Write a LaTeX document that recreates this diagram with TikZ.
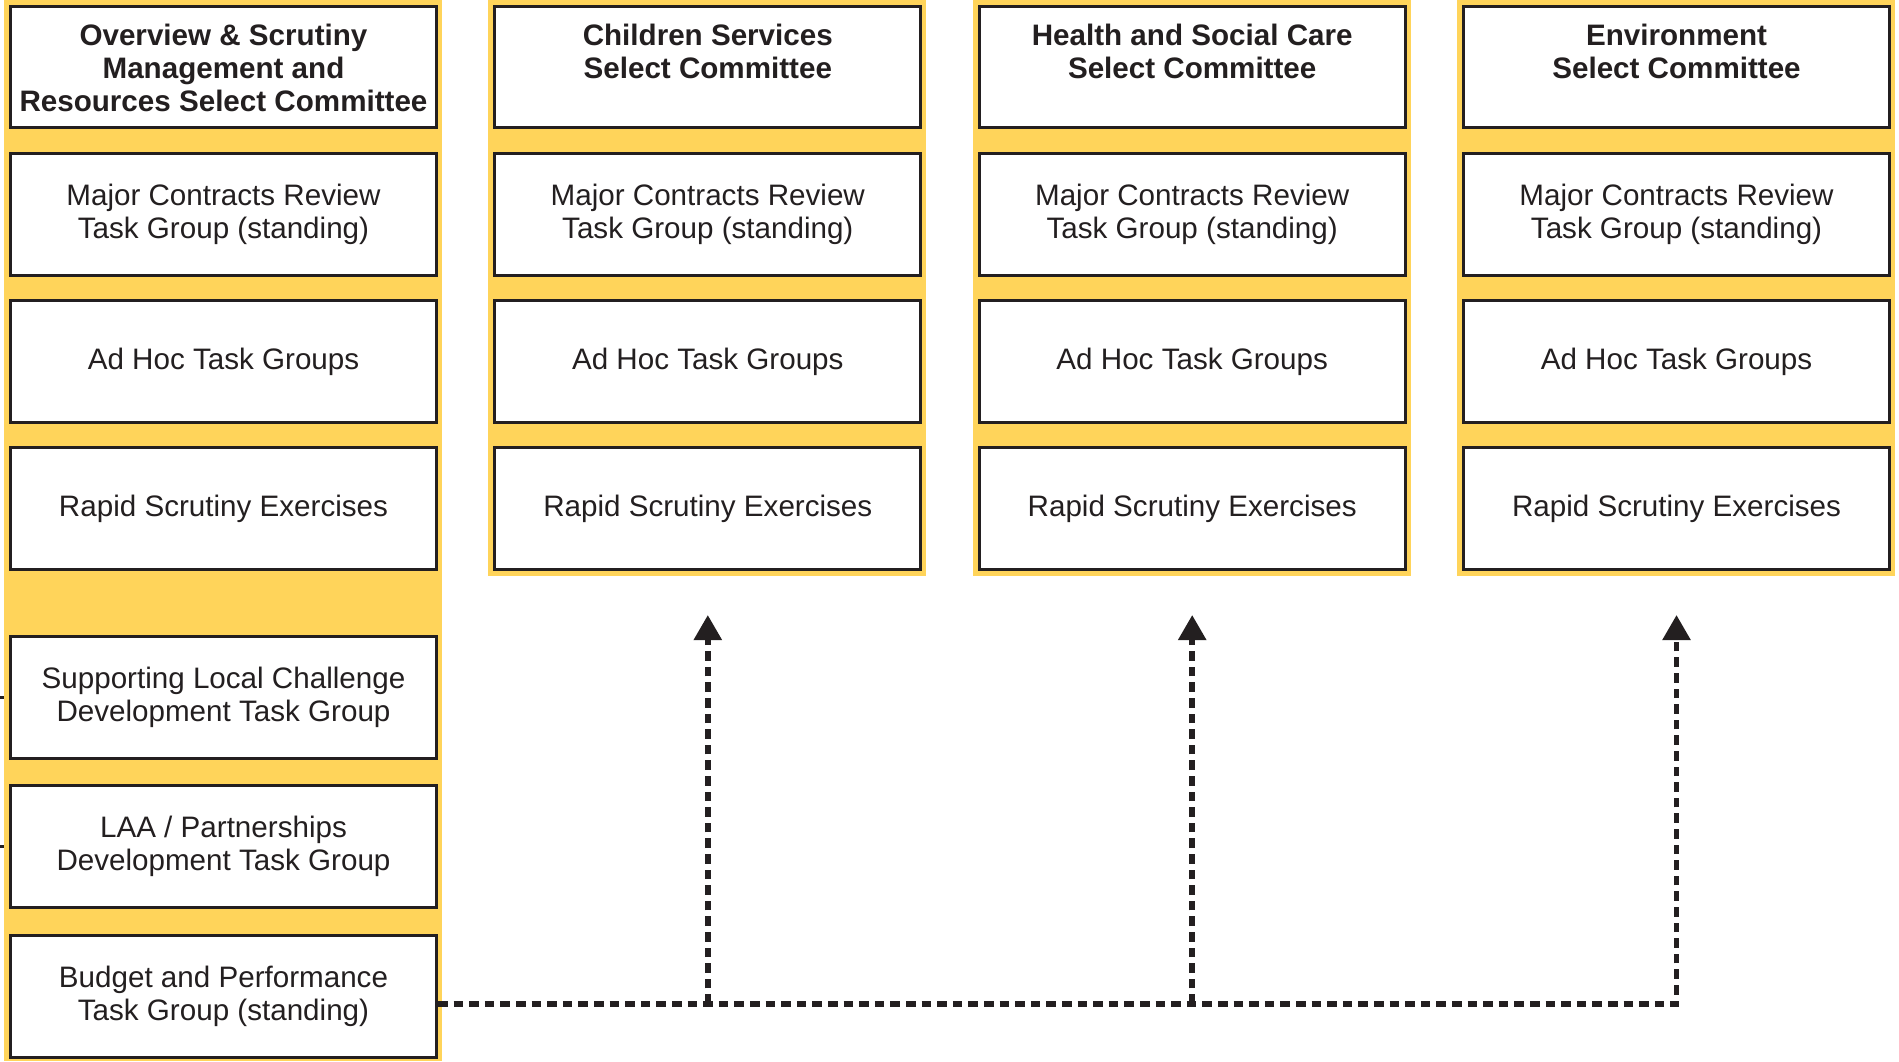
\documentclass[tikz,border=0pt]{standalone}
\usepackage{fontspec}
\setmainfont{Liberation Sans}
\usetikzlibrary{arrows.meta,backgrounds}
\definecolor{ylw}{HTML}{FFD45A}
\definecolor{ink}{HTML}{231F20}
\begin{document}
\begin{tikzpicture}[x=0.5pt,y=-0.5pt,
  box/.style={draw=ink, line width=1.5pt, fill=white, minimum width=213pt, minimum height=61pt,
    inner sep=0pt, font=\fontsize{14.8}{16.6}\selectfont, text=ink, align=center},
  headtext/.style={font=\bfseries\fontsize{14.8}{16.6}\selectfont, text=ink, align=center,
    inner sep=0pt, anchor=north},
  busline/.style={draw=ink, line width=2.75pt, dash pattern=on 4.8pt off 3pt},
  tipped/.style={-{Triangle[length=12.5pt,width=13.5pt]}},
  stub/.style={draw=ink, line width=1.5pt}]
\useasboundingbox (0,0) rectangle (1899,1061);

% header boxes
\node[box, minimum height=60.5pt] (h1) at (223.5,67) {};
\node[box, minimum height=60.5pt] (h2) at (707.8,67) {};
\node[box, minimum height=60.5pt] (h3) at (1192.2,67) {};
\node[box, minimum height=60.5pt] (h4) at (1676.5,67) {};
\node[headtext] (h1t) at (223.5,23.5) {Overview \& Scrutiny\\Management and\\Resources Select Committee};
\node[headtext] (h2t) at (707.8,23.5) {Children Services\\Select Committee};
\node[headtext] (h3t) at (1192.2,23.5) {Health and Social Care\\Select Committee};
\node[headtext] (h4t) at (1676.5,23.5) {Environment\\Select Committee};

% rows for each column
\foreach \i/\cx in {1/223.5,2/707.8,3/1192.2,4/1676.5}{
  \node[box] (m\i) at (\cx,214.5) {Major Contracts Review\\Task Group (standing)};
  \node[box] (a\i) at (\cx,361.5) {Ad Hoc Task Groups};
  \node[box] (r\i) at (\cx,508.5) {Rapid Scrutiny Exercises};
}

% lower boxes of first column
\node[box] (slc) at (223.5,697.25) {Supporting Local Challenge\\Development Task Group};
\node[box] (laa) at (223.5,846) {LAA / Partnerships\\Development Task Group};
\node[box] (bp) at (223.5,996.25) {Budget and Performance\\Task Group (standing)};

% background: stubs and yellow bands
\begin{pgfonlayer}{background}
  \coordinate (s1) at (0,697.25);
  \coordinate (s2) at (0,846);
  \draw[stub] (s1) -- (slc.west);
  \draw[stub] (s2) -- (laa.west);
  \fill[ylw] (4,0) rectangle (442,1061);
  \foreach \cx in {707.8,1192.2,1676.5}{
    \fill[ylw] (\cx-219.5,0) rectangle (\cx+218.5,576);
  }
\end{pgfonlayer}

% dashed connectors
\coordinate (busy) at (0,1004);
\coordinate (t2) at ([yshift=-22pt]r2.south);
\coordinate (t3) at ([yshift=-22pt]r3.south);
\coordinate (t4) at ([yshift=-22pt]r4.south);
\draw[busline, tipped] (bp.east |- busy) -| (t4);
\draw[busline, tipped] (t2 |- busy) -- (t2);
\draw[busline, tipped] (t3 |- busy) -- (t3);
\end{tikzpicture}
\end{document}
